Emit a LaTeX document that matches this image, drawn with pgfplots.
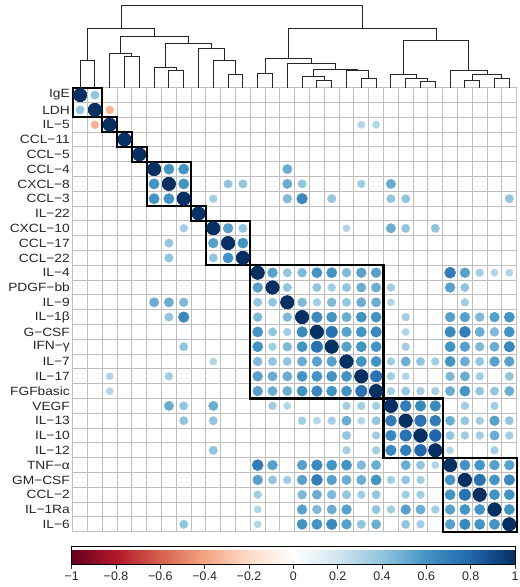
\documentclass[border=0pt]{standalone}
\usepackage{pgfplots}
\usepackage{pgfplotstable}
\usepackage{fontspec}
\pgfplotsset{compat=1.18}
\setmainfont{Liberation Sans}
\newfontfamily\lblfont[FakeStretch=1.15]{Liberation Sans}

\pgfplotsset{
  colormap={rdbu}{rgb255=(103,0,31) rgb255=(178,24,43) rgb255=(214,96,77)
    rgb255=(244,165,130) rgb255=(253,219,199) rgb255=(255,255,255)
    rgb255=(209,229,240) rgb255=(146,197,222) rgb255=(67,147,195)
    rgb255=(33,102,172) rgb255=(5,48,97)},
  corrdots/.style={scatter, only marks, mark=*, point meta=explicit,
    scatter/use mapped color={draw=mapped color, fill=mapped color},
    visualization depends on={6.68*sqrt(abs(\thisrow{r})) \as \rad},
    scatter/@pre marker code/.append style={/tikz/mark size=\rad}},
}

% correlation matrix, upper triangle with diagonal (row i, column j, r)
\pgfplotstableread{
i j r
0 0 1
1 1 1
2 2 1
3 3 1
4 4 1
5 5 1
6 6 1
7 7 1
8 8 1
9 9 1
10 10 1
11 11 1
12 12 1
13 13 1
14 14 1
15 15 1
16 16 1
17 17 1
18 18 1
19 19 1
20 20 1
21 21 1
22 22 1
23 23 1
24 24 1
25 25 1
26 26 1
27 27 1
28 28 1
29 29 1
0 1 0.4
1 2 -0.35
2 19 0.3
2 20 0.3
5 6 0.6
5 7 0.6
5 14 0.5
6 7 0.6
6 10 0.4
6 11 0.4
6 14 0.5
6 15 0.4
6 19 0.35
6 21 0.5
7 9 0.35
7 14 0.45
7 15 0.65
7 17 0.4
7 21 0.4
7 22 0.4
7 29 0.4
9 10 0.55
9 11 0.4
9 18 0.3
9 21 0.5
9 22 0.4
9 24 0.4
10 11 0.6
12 13 0.55
12 14 0.4
12 15 0.45
12 16 0.6
12 17 0.6
12 18 0.45
12 19 0.55
12 20 0.55
12 25 0.7
12 26 0.55
12 27 0.35
12 28 0.3
12 29 0.3
13 14 0.4
13 16 0.4
13 17 0.35
13 18 0.4
13 19 0.5
13 20 0.5
13 21 0.35
13 25 0.55
13 26 0.4
14 15 0.45
14 16 0.35
14 17 0.45
14 18 0.4
14 19 0.5
14 20 0.5
14 21 0.3
14 26 0.35
15 16 0.65
15 17 0.6
15 18 0.5
15 19 0.6
15 20 0.6
15 22 0.35
15 25 0.55
15 26 0.55
15 27 0.45
15 28 0.55
15 29 0.6
16 17 0.75
16 18 0.55
16 19 0.6
16 20 0.65
16 22 0.3
16 25 0.65
16 26 0.7
16 27 0.5
16 28 0.45
16 29 0.6
17 18 0.55
17 19 0.6
17 20 0.6
17 22 0.35
17 25 0.6
17 26 0.55
17 27 0.45
17 28 0.5
17 29 0.65
18 19 0.6
18 20 0.6
18 21 0.35
18 22 0.5
18 23 0.4
18 24 0.35
18 25 0.6
18 26 0.5
18 27 0.4
18 28 0.55
18 29 0.55
19 20 0.75
19 21 0.35
19 22 0.3
19 25 0.45
19 26 0.5
19 27 0.35
19 29 0.4
20 21 0.35
20 22 0.4
20 23 0.35
20 24 0.35
20 25 0.5
20 26 0.6
20 27 0.4
20 28 0.4
20 29 0.5
21 22 0.7
21 23 0.65
21 24 0.65
21 26 0.35
21 28 0.35
22 23 0.75
22 24 0.7
22 25 0.5
22 26 0.4
22 27 0.35
22 28 0.55
22 29 0.4
23 24 0.8
23 25 0.4
23 26 0.35
23 27 0.35
23 28 0.5
23 29 0.35
24 25 0.3
24 28 0.35
25 26 0.6
25 27 0.6
25 28 0.55
25 29 0.55
26 27 0.75
26 28 0.6
26 29 0.65
27 28 0.6
27 29 0.6
28 29 0.6
}\corr

% cluster outlines (corners of each block, nan between blocks)
\pgfplotstableread{
x y
-0.5 -0.5
1.5 -0.5
1.5 1.5
-0.5 1.5
-0.5 -0.5
nan nan
1.5 1.5
2.5 1.5
2.5 2.5
1.5 2.5
1.5 1.5
nan nan
2.5 2.5
3.5 2.5
3.5 3.5
2.5 3.5
2.5 2.5
nan nan
3.5 3.5
4.5 3.5
4.5 4.5
3.5 4.5
3.5 3.5
nan nan
4.5 4.5
7.5 4.5
7.5 7.5
4.5 7.5
4.5 4.5
nan nan
7.5 7.5
8.5 7.5
8.5 8.5
7.5 8.5
7.5 7.5
nan nan
8.5 8.5
11.5 8.5
11.5 11.5
8.5 11.5
8.5 8.5
nan nan
11.5 11.5
20.5 11.5
20.5 20.5
11.5 20.5
11.5 11.5
nan nan
20.5 20.5
24.5 20.5
24.5 24.5
20.5 24.5
20.5 20.5
nan nan
24.5 24.5
29.5 24.5
29.5 29.5
24.5 29.5
24.5 24.5
}\blocks

% dendrogram links: left child, merge height, right child (nan between links)
\pgfplotstableread{
x h
0 0
0 27
1 27
1 0
nan nan
3 0
3 31.3
4 31.3
4 0
nan nan
2 0
2 34
3.5 34
3.5 31.3
nan nan
6 0
6 16.7
7 16.7
7 0
nan nan
5 0
5 20.3
6.5 20.3
6.5 16.7
nan nan
10 0
10 13.3
11 13.3
11 0
nan nan
9 0
9 27
10.5 27
10.5 13.3
nan nan
8 0
8 38.7
9.75 38.7
9.75 27
nan nan
5.75 20.3
5.75 44.3
8.875 44.3
8.875 38.7
nan nan
2.75 34
2.75 51.3
7.3125 51.3
7.3125 44.3
nan nan
0.5 27
0.5 58.7
5.03125 58.7
5.03125 51.3
nan nan
12 0
12 14
13 14
13 0
nan nan
16 0
16 7
17 7
17 0
nan nan
15 0
15 10.7
16.5 10.7
16.5 7
nan nan
19 0
19 8.7
20 8.7
20 0
nan nan
18 0
18 17.3
19.5 17.3
19.5 8.7
nan nan
15.75 10.7
15.75 18
18.75 18
18.75 17.3
nan nan
14 0
14 23.7
17.25 23.7
17.25 18
nan nan
12.5 14
12.5 28.7
15.625 28.7
15.625 23.7
nan nan
23 0
23 6
24 6
24 0
nan nan
22 0
22 8.7
23.5 8.7
23.5 6
nan nan
21 0
21 12.7
22.75 12.7
22.75 8.7
nan nan
26 0
26 7
27 7
27 0
nan nan
28 0
28 9.3
29 9.3
29 0
nan nan
26.5 7
26.5 12.7
28.5 12.7
28.5 9.3
nan nan
25 0
25 17
27.5 17
27.5 12.7
nan nan
21.875 12.7
21.875 47.3
26.25 47.3
26.25 17
nan nan
14.0625 28.7
14.0625 58.7
24.0625 58.7
24.0625 47.3
nan nan
2.765625 58.7
2.765625 82.3
19.0625 82.3
19.0625 58.7
}\dendro

\begin{document}
\begin{tikzpicture}
\begin{axis}[
  name=mat, at={(0,0)}, anchor=south west,
  width=444bp, height=444bp, scale only axis,
  xmin=-0.5, xmax=29.5, ymin=-0.5, ymax=29.5, y dir=reverse,
  axis line style={draw=none},
  xtick={-0.5,0.5,...,29.5}, xticklabels={},
  ytick={0,...,29},
  yticklabels={IgE,LDH,IL−5,CCL−11,CCL−5,CCL−4,CXCL−8,CCL−3,IL−22,CXCL−10,CCL−17,CCL−22,IL−4,PDGF−bb,IL−9,IL−1β,G−CSF,IFN−γ,IL−7,IL−17,FGFbasic,VEGF,IL−13,IL−10,IL−12,TNF−α,GM−CSF,CCL−2,IL−1Ra,IL−6},
  major tick length=0pt, minor tick length=0pt,
  minor ytick={-0.5,0.5,...,29.5},
  xmajorgrids=true, ymajorgrids=false, yminorgrids=true,
  major grid style={black!25, line width=1.1bp},
  minor grid style={black!25, line width=1.1bp},
  yticklabel style={font=\lblfont\fontsize{12}{12}\selectfont, text=black!85, anchor=east, inner sep=0pt, xshift=-2.7bp},
  colormap name=rdbu, point meta min=-1, point meta max=1,
  colorbar horizontal,
  colorbar style={
    at={(parent axis.south west)}, anchor=north west,
    xshift=-1bp, yshift=-6.6bp,
    width=443.3bp, height=17.7bp, scale only axis,
    xtick={-1,-0.8,-0.6,-0.4,-0.2,0,0.2,0.4,0.6,0.8,1},
    xticklabels={−1,−0.8,−0.6,−0.4,−0.2,0,0.2,0.4,0.6,0.8,1},
    xtick pos=left, xticklabel pos=left,
    tick align=outside, major tick length=4bp,
    xticklabel style={font=\fontsize{12.5}{12.5}\selectfont, text=black!85},
    axis line style={black, line width=0.8bp},
    tick style={black!80, line width=0.8bp},
  },
  clip=false,
]
\addplot[corrdots] table[x=j, y=i, meta=r] {\corr};
\addplot[corrdots] table[x=i, y=j, meta=r] {\corr};
\addplot[black, line width=2.2bp, line cap=rect, unbounded coords=jump]
  table[x=x, y=y] {\blocks};
\end{axis}

\begin{axis}[
  at={(0,444bp)}, anchor=south west,
  width=444bp, height=82.3bp, scale only axis,
  xmin=-0.5, xmax=29.5, ymin=0, ymax=82.3,
  hide axis, clip=false,
]
\addplot[black!85, line width=1bp, unbounded coords=jump] table[x=x, y=h] {\dendro};
\end{axis}

\pgfresetboundingbox
\useasboundingbox (-72.7bp,-55.3bp) rectangle (447.3bp,531.7bp);
\end{tikzpicture}
\end{document}
